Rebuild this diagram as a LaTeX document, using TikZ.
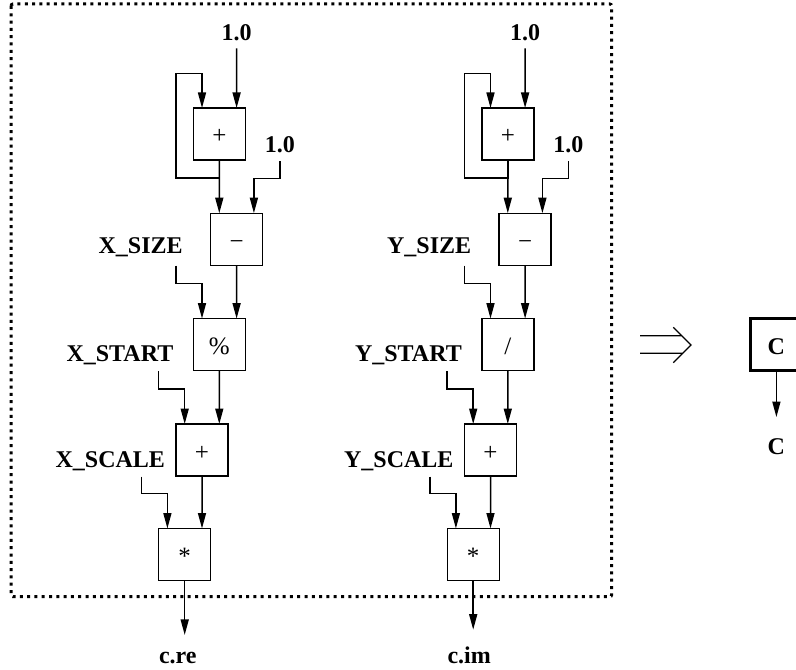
\documentclass[tikz,border=0pt]{standalone}
\usepackage{fontspec}
\setmainfont{Liberation Serif}
\usetikzlibrary{arrows.meta}
\tikzset{
  opbox/.style={draw,line width=1.4bp,minimum width=52bp,minimum height=52bp,
    text height=20bp,text depth=0bp,font=\fontsize{25bp}{29bp}\selectfont},
  outbox/.style={opbox,line width=3bp,font=\fontsize{24bp}{28bp}\selectfont\bfseries},
  lbl/.style={font=\fontsize{24bp}{28bp}\selectfont\bfseries},
  wire/.style={line width=1.5bp,-{Triangle[length=15.5bp,width=8bp]}},
  frame/.style={line width=3bp,dash pattern=on 3bp off 4.3bp,rounded corners=2bp},
}

\begin{document}
\begin{tikzpicture}[x=1bp,y=-1bp,inner sep=0pt,outer sep=0pt]
  \useasboundingbox (0,0) rectangle (796,670);
  \draw[frame] (11,4) rectangle (611.7,596.7);
  % x column
  \node[opbox] (xinc) at (219.3,134.0) {+};
  \node[opbox] (xsub) at (236.6,239.2) {−};
  \node[opbox] (xmod) at (219.3,344.6) {\%};
  \node[opbox] (xadd) at (202.0,450.0) {+};
  \node[opbox] (xmul) at (184.7,554.5) {*};
  \node[lbl,anchor=base] (xone) at (236.6,40.7) {1.0};
  \node[lbl,anchor=base] (xonei) at (279.9,152.7) {1.0};
  \node[lbl,anchor=base east] (xsize) at (182.7,253.3) {X\_SIZE};
  \node[lbl,anchor=base east] (xstart) at (173.3,361.7) {X\_START};
  \node[lbl,anchor=base east] (xscale) at (165.0,467.7) {X\_SCALE};
  \node[lbl,anchor=base west] (xre) at (159.0,663.3) {c.re};
  \coordinate (xsizeo) at (176.0,265.7);
  \coordinate (xstarto) at (158.7,371.0);
  \coordinate (xscaleo) at (141.4,476.7);
  \draw[wire,shorten <=7.3bp] (xone.south) -- ([xshift=17.3bp]xinc.north);
  \draw[wire] (xinc.south) -- ([xshift=-17.3bp]xsub.north);
  \draw[wire] (xinc.south) -- ++(0,18) -| ++(-43.3,-104.3) -| ([xshift=-17.3bp]xinc.north);
  \draw[wire,shorten <=8.3bp] (xonei.south) -- ++(0,25.7) -| ([xshift=17.3bp]xsub.north);
  \draw[wire] (xsub.south) -- ([xshift=17.3bp]xmod.north);
  \draw[wire] (xsizeo) -- ++(0,17.6) -| ([xshift=-17.3bp]xmod.north);
  \draw[wire] (xmod.south) -- ([xshift=17.3bp]xadd.north);
  \draw[wire] (xstarto) -- ++(0,18) -| ([xshift=-17.3bp]xadd.north);
  \draw[wire] (xadd.south) -- ([xshift=17.3bp]xmul.north);
  \draw[wire] (xscaleo) -- ++(0,16.6) -| ([xshift=-17.3bp]xmul.north);
  \draw[wire,shorten >=17bp] (xmul.south) -- (xmul.south |- xre.north);
  % y column
  \node[opbox] (yinc) at (507.8,134.0) {+};
  \node[opbox] (ysub) at (525.1,239.2) {−};
  \node[opbox] (ymod) at (507.8,344.6) {/};
  \node[opbox] (yadd) at (490.5,450.0) {+};
  \node[opbox] (ymul) at (473.2,554.5) {*};
  \node[lbl,anchor=base] (yone) at (525.1,40.7) {1.0};
  \node[lbl,anchor=base] (yonei) at (568.4,152.7) {1.0};
  \node[lbl,anchor=base east] (ysize) at (471.2,253.3) {Y\_SIZE};
  \node[lbl,anchor=base east] (ystart) at (461.8,361.7) {Y\_START};
  \node[lbl,anchor=base east] (yscale) at (453.5,467.7) {Y\_SCALE};
  \node[lbl,anchor=base west] (yim) at (447.5,663.3) {c.im};
  \coordinate (ysizeo) at (464.5,265.7);
  \coordinate (ystarto) at (447.2,371.0);
  \coordinate (yscaleo) at (429.9,476.7);
  \draw[wire,shorten <=7.3bp] (yone.south) -- ([xshift=17.3bp]yinc.north);
  \draw[wire] (yinc.south) -- ([xshift=-17.3bp]ysub.north);
  \draw[wire] (yinc.south) -- ++(0,18) -| ++(-43.3,-104.3) -| ([xshift=-17.3bp]yinc.north);
  \draw[wire,shorten <=8.3bp] (yonei.south) -- ++(0,25.7) -| ([xshift=17.3bp]ysub.north);
  \draw[wire] (ysub.south) -- ([xshift=17.3bp]ymod.north);
  \draw[wire] (ysizeo) -- ++(0,17.6) -| ([xshift=-17.3bp]ymod.north);
  \draw[wire] (ymod.south) -- ([xshift=17.3bp]yadd.north);
  \draw[wire] (ystarto) -- ++(0,18) -| ([xshift=-17.3bp]yadd.north);
  \draw[wire] (yadd.south) -- ([xshift=17.3bp]ymul.north);
  \draw[wire] (yscaleo) -- ++(0,16.6) -| ([xshift=-17.3bp]ymul.north);
  \draw[wire,shorten >=17bp] (ymul.south) -- (ymul.south |- yim.north);
  % collapsed
  \draw[line width=1.2bp] (640,335.7) -- (681.7,335.7) (640,353.3) -- (682.7,353.3)
    (673.3,327.3) -- (691,345) -- (673.3,362.7);
  \node[outbox] (cbox) at (776.4,344.7) {C};
  \node[lbl,anchor=base] (cout) at (776.4,454.0) {C};
  \draw[wire,shorten >=21bp] (cbox.south) -- (cbox.south |- cout.north);
\end{tikzpicture}
\end{document}
